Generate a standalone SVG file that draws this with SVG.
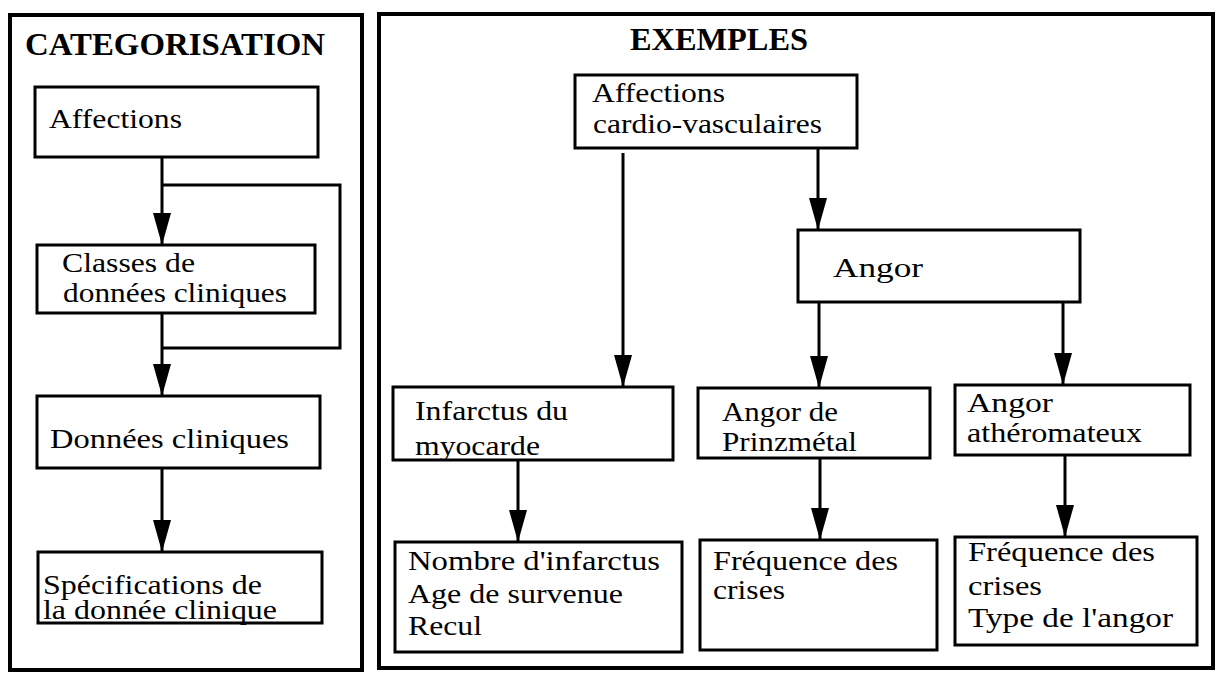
<svg xmlns="http://www.w3.org/2000/svg" width="1217" height="675" viewBox="0 0 1217 675">
<style>
.panel{fill:none;stroke:#000;stroke-width:4}
.box{fill:#fff;stroke:#000;stroke-width:3}
.t{font-family:"Liberation Serif","Times New Roman",serif;font-size:28px;fill:#000}
.h{font-family:"Liberation Serif","Times New Roman",serif;font-size:31px;font-weight:bold;fill:#000}
.c{fill:none;stroke:#000;stroke-width:3}
</style>
<defs>
<marker id="arr" markerUnits="userSpaceOnUse" markerWidth="32" markerHeight="18" refX="32" refY="9" orient="auto" viewBox="0 0 32 18">
<path d="M0,0 L32,9 L0,18 z" fill="#000"/>
</marker>
</defs>
<rect width="1217" height="675" fill="#fff"/>
<g id="panel-left">
<rect class="panel" x="10" y="15" width="352" height="655"/>
<text class="h" x="25" y="55" textLength="300" lengthAdjust="spacingAndGlyphs">CATEGORISATION</text>
</g>
<g id="panel-right">
<rect class="panel" x="379" y="14" width="834" height="654"/>
<text class="h" x="630" y="50" textLength="178" lengthAdjust="spacingAndGlyphs">EXEMPLES</text>
</g>
<g id="connectors">
<line class="c" x1="162" y1="157" x2="162" y2="245" marker-end="url(#arr)"/>
<polyline class="c" points="162,185 340,185 340,348 162,348"/>
<line class="c" x1="162" y1="313" x2="162" y2="396" marker-end="url(#arr)"/>
<line class="c" x1="162" y1="462" x2="162" y2="552" marker-end="url(#arr)"/>
<line class="c" x1="623" y1="153" x2="623" y2="387" marker-end="url(#arr)"/>
<line class="c" x1="818" y1="148" x2="818" y2="230" marker-end="url(#arr)"/>
<line class="c" x1="819" y1="302" x2="819" y2="388" marker-end="url(#arr)"/>
<line class="c" x1="1063" y1="302" x2="1063" y2="385" marker-end="url(#arr)"/>
<line class="c" x1="518" y1="455" x2="518" y2="542" marker-end="url(#arr)"/>
<line class="c" x1="820" y1="453" x2="820" y2="540" marker-end="url(#arr)"/>
<line class="c" x1="1065" y1="445" x2="1065" y2="537" marker-end="url(#arr)"/>
</g>
<g id="n-affections">
<rect class="box" x="35" y="87" width="283" height="70"/>
<text class="t" x="49" y="128" textLength="133" lengthAdjust="spacingAndGlyphs">Affections</text>
</g>
<g id="n-classes">
<rect class="box" x="37" y="245" width="278" height="68"/>
<text class="t" x="62" y="272" textLength="133" lengthAdjust="spacingAndGlyphs">Classes de</text>
<text class="t" x="63" y="302" textLength="224" lengthAdjust="spacingAndGlyphs">données cliniques</text>
</g>
<g id="n-donnees">
<rect class="box" x="37" y="396" width="283" height="72"/>
<text class="t" x="50" y="448" textLength="239" lengthAdjust="spacingAndGlyphs">Données cliniques</text>
</g>
<g id="n-specifications">
<rect class="box" x="38" y="552" width="284" height="71"/>
<text class="t" x="43" y="594" textLength="219" lengthAdjust="spacingAndGlyphs">Spécifications de</text>
<text class="t" x="43" y="619" textLength="234" lengthAdjust="spacingAndGlyphs">la donnée clinique</text>
</g>
<g id="n-cardio">
<rect class="box" x="575" y="75" width="282" height="73"/>
<text class="t" x="592" y="102" textLength="133" lengthAdjust="spacingAndGlyphs">Affections</text>
<text class="t" x="593" y="133" textLength="229" lengthAdjust="spacingAndGlyphs">cardio-vasculaires</text>
</g>
<g id="n-angor">
<rect class="box" x="798" y="230" width="282" height="72"/>
<text class="t" x="833" y="277" textLength="90" lengthAdjust="spacingAndGlyphs">Angor</text>
</g>
<g id="n-infarctus">
<rect class="box" x="393" y="387" width="280" height="73"/>
<text class="t" x="415" y="420" textLength="153" lengthAdjust="spacingAndGlyphs">Infarctus du</text>
<text class="t" x="415" y="455" textLength="125" lengthAdjust="spacingAndGlyphs">myocarde</text>
</g>
<g id="n-prinzmetal">
<rect class="box" x="698" y="388" width="232" height="70"/>
<text class="t" x="722" y="421" textLength="116" lengthAdjust="spacingAndGlyphs">Angor de</text>
<text class="t" x="722" y="451" textLength="135" lengthAdjust="spacingAndGlyphs">Prinzmétal</text>
</g>
<g id="n-atheromateux">
<rect class="box" x="955" y="385" width="235" height="70"/>
<text class="t" x="967" y="412" textLength="86" lengthAdjust="spacingAndGlyphs">Angor</text>
<text class="t" x="967" y="442" textLength="175" lengthAdjust="spacingAndGlyphs">athéromateux</text>
</g>
<g id="n-nombre">
<rect class="box" x="395" y="542" width="287" height="110"/>
<text class="t" x="408" y="570" textLength="252" lengthAdjust="spacingAndGlyphs">Nombre d'infarctus</text>
<text class="t" x="408" y="603" textLength="215" lengthAdjust="spacingAndGlyphs">Age de survenue</text>
<text class="t" x="408" y="635" textLength="74" lengthAdjust="spacingAndGlyphs">Recul</text>
</g>
<g id="n-frequence1">
<rect class="box" x="700" y="540" width="237" height="110"/>
<text class="t" x="713" y="570" textLength="185" lengthAdjust="spacingAndGlyphs">Fréquence des</text>
<text class="t" x="713" y="599" textLength="72" lengthAdjust="spacingAndGlyphs">crises</text>
</g>
<g id="n-frequence2">
<rect class="box" x="955" y="537" width="242" height="108"/>
<text class="t" x="968" y="561" textLength="187" lengthAdjust="spacingAndGlyphs">Fréquence des</text>
<text class="t" x="968" y="595" textLength="74" lengthAdjust="spacingAndGlyphs">crises</text>
<text class="t" x="968" y="627" textLength="205" lengthAdjust="spacingAndGlyphs">Type de l'angor</text>
</g>
</svg>
